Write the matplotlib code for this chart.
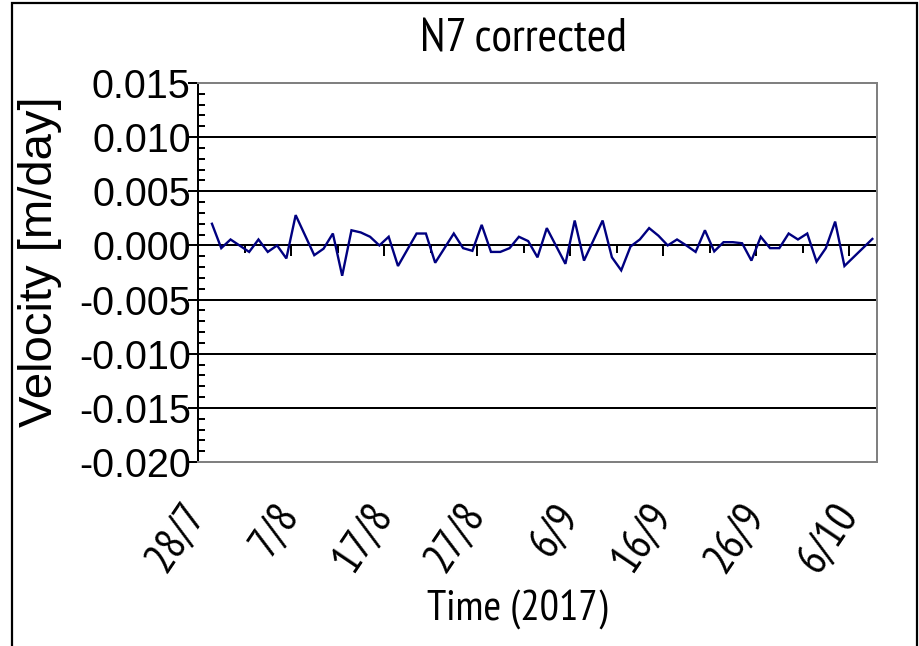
import matplotlib
matplotlib.use("Agg")
import matplotlib.pyplot as plt
from matplotlib import font_manager
from matplotlib.patches import Rectangle
import pandas as pd
import numpy as np

# ---------------- data ----------------
dates = ["29/7", "30/7", "31/7", "2/8", "3/8", "4/8", "5/8", "6/8", "7/8", "9/8",
         "10/8", "11/8", "12/8", "13/8", "14/8", "15/8", "16/8", "17/8", "18/8", "20/8",
         "21/8", "22/8", "24/8", "25/8", "26/8", "27/8", "28/8", "29/8", "30/8", "31/8",
         "1/9", "2/9", "3/9", "5/9", "6/9", "7/9", "9/9", "10/9", "11/9", "12/9",
         "13/9", "14/9", "15/9", "16/9", "17/9", "18/9", "19/9", "20/9", "21/9", "22/9",
         "23/9", "24/9", "25/9", "26/9", "27/9", "28/9", "29/9", "30/9", "1/10", "2/10",
         "3/10", "4/10", "5/10", "8/10"]
velocity = [0.0020, -0.00025, 0.00055, -0.0006, 0.00055, -0.0006, 0.0000, -0.0012, 0.0028, -0.0009,
            -0.0003, 0.0011, -0.0028, 0.0014, 0.0012, 0.0008, 0.0000, 0.0008, -0.0019, 0.0011,
            0.0011, -0.0016, 0.0011, -0.00025, -0.0005, 0.0019, -0.0006, -0.0006, -0.00025, 0.0008,
            0.0004, -0.0011, 0.0016, -0.0017, 0.0023, -0.0014, 0.0023, -0.0011, -0.0023, -0.0001,
            0.00055, 0.0016, 0.0009, 0.0000, 0.00055, 0.0000, -0.0006, 0.0014, -0.00055, 0.0003,
            0.0003, 0.0002, -0.0014, 0.0008, -0.00025, -0.00025, 0.0011, 0.00055, 0.0011, -0.0015,
            -0.00025, 0.0022, -0.0019, 0.0006]
xtick_labels = ["28/7", "7/8", "17/8", "27/8", "6/9", "16/9", "26/9", "6/10"]
yticks = [0.015, 0.010, 0.005, 0.000, -0.005, -0.010, -0.015, -0.020]
title = "N7 corrected"
xlabel = "Time (2017)"
ylabel = "Velocity [m/day]"
year = 2017
x_start, x_end = "28/7", "9/10"

# ---------------- fonts ----------------
names = {f.name for f in font_manager.fontManager.ttflist}
base = "Liberation Sans" if "Liberation Sans" in names else "DejaVu Sans"
narrow = base
for cand in ["PT Sans Narrow", "Roboto Condensed", "Archivo Narrow", "Open Sans Condensed"]:
    if cand in names:
        narrow = cand
        break
plt.rcParams["font.family"] = [base, "DejaVu Sans"]
plt.rcParams["axes.unicode_minus"] = False
NF = [narrow, base, "DejaVu Sans"]

def to_dt(s):
    d, m = s.split("/")
    return pd.Timestamp(year=year, month=int(m), day=int(d))

t = pd.to_datetime([to_dt(s) for s in dates]) + pd.Timedelta(hours=12)
xmaj = [to_dt(s) for s in xtick_labels]
x0, x1 = to_dt(x_start), to_dt(x_end)
xmin_ = pd.date_range(x0, x1, freq="5D")

W, H = 919, 646
fig = plt.figure(figsize=(W / 100, H / 100), dpi=100)
fig.patch.set_facecolor("white")

L, R, T, B = 198, 877, 83, 462
ax = fig.add_axes([L / W, 1 - B / H, (R - L) / W, (B - T) / H])

lw = 1.44
ax.plot(t, velocity, color="#000080", lw=1.7, zorder=5, solid_joinstyle="miter")

ymin, ymax = -0.020, 0.015
ax.set_ylim(ymin, ymax)
ax.set_xlim(x0, x1)

ax.set_yticks(yticks)
ax.set_yticklabels([f"{v:.3f}" for v in yticks], fontsize=28.5)
ax.set_yticks(np.arange(-0.020, 0.0151, 0.001), minor=True)
ax.tick_params(axis="y", which="major", direction="inout", length=14.4, width=lw, pad=-2)
ax.tick_params(axis="y", which="minor", direction="in", length=5, width=lw)
ax.yaxis.grid(True, which="major", color="black", lw=lw)
ax.set_axisbelow(True)

ax.set_xticks(xmaj)
ax.set_xticklabels(xtick_labels, fontsize=32, rotation=56, ha="right", va="center",
                   rotation_mode="anchor", family=NF)
ax.tick_params(axis="x", which="both", length=0, pad=33)
ax.xaxis.set_minor_locator(matplotlib.ticker.NullLocator())

for s in ["top", "right", "bottom"]:
    ax.spines[s].set_color("#808080")
    ax.spines[s].set_linewidth(lw)
ax.spines["left"].set_color("black")
ax.spines["left"].set_linewidth(lw)

# x-axis tick marks at the zero line
loc = (0 - ymin) / (ymax - ymin)
sec = ax.secondary_xaxis(loc)
sec.set_xticks(xmaj)
sec.set_xticks(xmin_, minor=True)
sec.tick_params(axis="x", which="major", direction="in", length=8, width=lw,
                labelbottom=False, labeltop=False)
sec.tick_params(axis="x", which="minor", direction="in", length=5.8, width=lw,
                labelbottom=False, labeltop=False)
for sp in sec.spines.values():
    sp.set_visible(False)

ax.set_xlabel(xlabel, fontsize=31, va="center", family=NF)
ax.xaxis.set_label_coords((517 - L) / (R - L), (B - 610) / (B - T))
ax.set_ylabel(ylabel, fontsize=34, va="center")
ax.yaxis.set_label_coords((40 - L) / (R - L), (B - 262) / (B - T))

fig.text(523 / W, 1 - 39 / H, title, ha="center", va="center", fontsize=34, family=NF)

fig.add_artist(Rectangle((11.7 / W, -0.02), (917 - 11.7) / W, 1 - 3.3 / H + 0.02,
                         transform=fig.transFigure, fill=False, ec="black", lw=1.6))

fig.savefig("out.png", dpi=100, facecolor="white")
